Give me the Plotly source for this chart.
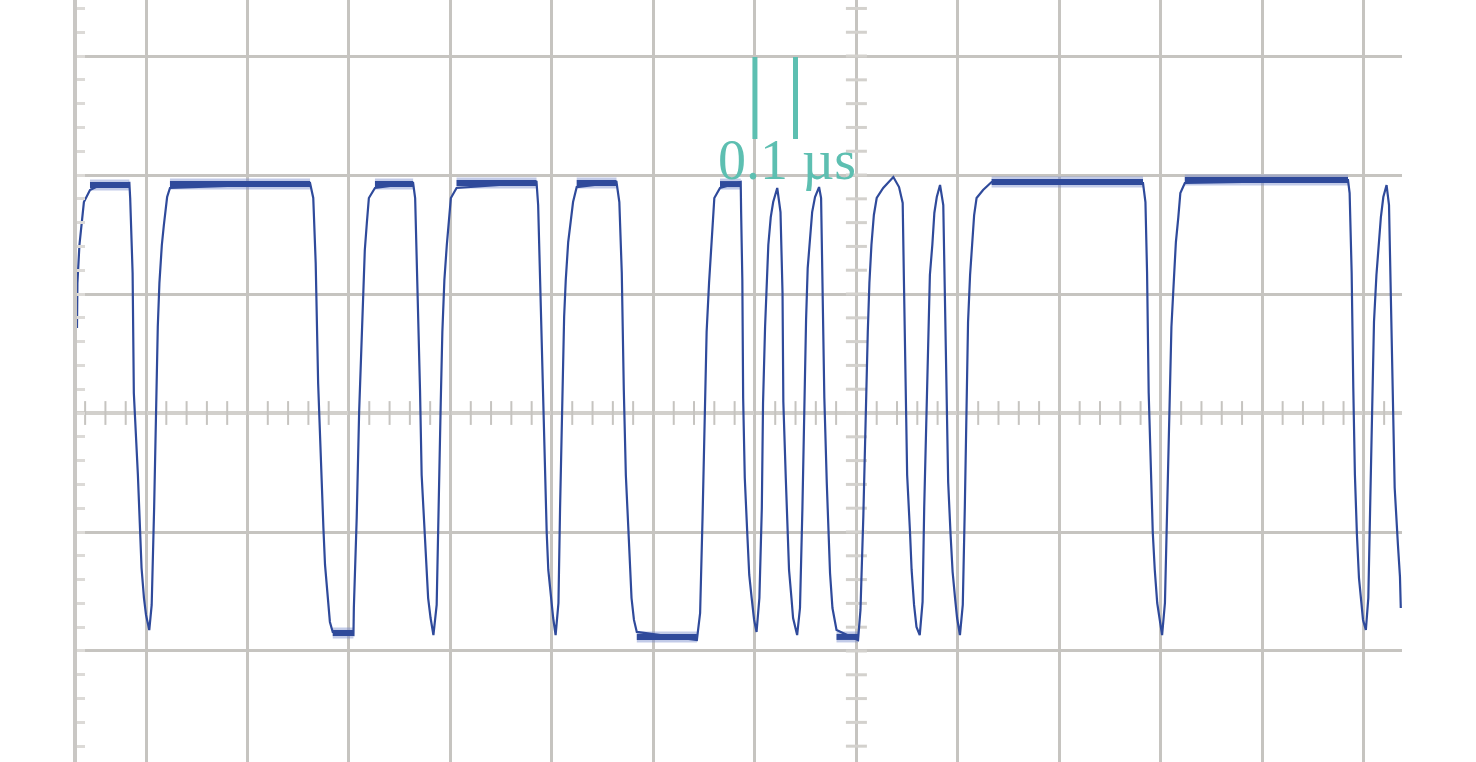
import numpy as np
import plotly.graph_objects as go

# ---- waveform: time (ns), level (divisions) ----
t_ns = [-1920, -1919, -1914, -1908, -1903, -1888, -1863, -1791, -1789, -1783, -1780, -1770, -1765, -1761,
        -1755, -1750, -1742, -1736, -1730, -1725, -1721, -1717, -1711, -1706, -1698, -1691, -1346, -1338,
        -1332, -1326, -1320, -1313, -1309, -1303, -1297, -1290, -1239, -1238, -1231, -1225, -1219, -1215,
        -1211, -1206, -1201, -1186, -1092, -1087, -1082, -1075, -1071, -1065, -1060, -1055, -1049, -1042,
        -1034, -1030, -1024, -1020, -1015, -1009, -1004, -999, -985, -788, -784, -780, -773, -767, -763,
        -759, -753, -747, -741, -734, -730, -724, -720, -716, -710, -704, -698, -689, -591, -584, -578,
        -573, -568, -562, -558, -554, -548, -541, -393, -385, -379, -373, -369, -363, -358, -354, -350,
        -336, -285, -284, -281, -279, -275, -269, -264, -258, -252, -246, -239, -233, -230, -225, -221,
        -217, -211, -205, -195, -187, -182, -180, -174, -170, -166, -160, -156, -146, -139, -133, -129,
        -124, -120, -115, -109, -102, -92, -87, -83, -79, -73, -69, -65, -59, -49, 4, 10, 17, 23, 28, 32,
        37, 43, 50, 66, 91, 105, 114, 117, 121, 125, 132, 136, 142, 148, 156, 163, 167, 173, 177, 181,
        187, 192, 198, 206, 214, 218, 222, 226, 232, 237, 243, 248, 255, 262, 267, 271, 275, 280, 285,
        290, 296, 312, 333, 706, 712, 716, 720, 725, 730, 735, 741, 748, 753, 760, 766, 772, 776, 782,
        787, 793, 798, 809, 1211, 1215, 1220, 1224, 1228, 1233, 1238, 1244, 1248, 1255, 1261, 1266,
        1271, 1275, 1281, 1287, 1292, 1298, 1306, 1312, 1316, 1322, 1326, 1334, 1339, 1341]
v_div = [0.714, 1.092, 1.412, 1.605, 1.773, 1.874, 1.916, 1.933, 1.807, 1.176, 0.168, -0.521, -1.0, -1.303,
         -1.555, -1.697, -1.824, -1.613, -0.798, 0.084, 0.723, 1.092, 1.412, 1.580, 1.815, 1.891, 1.933, 1.807,
         1.261, 0.252, -0.395, -0.966, -1.277, -1.555, -1.756, -1.840, -1.866, -1.639, -0.882, 0.008, 0.639, 1.050,
         1.370, 1.597, 1.807, 1.891, 1.933, 1.807, 1.176, 0.193, -0.521, -0.958, -1.319, -1.555, -1.723, -1.866,
         -1.613, -0.840, 0.084, 0.681, 1.118, 1.412, 1.605, 1.807, 1.891, 1.941, 1.748, 1.218, 0.168, -0.521, -1.0,
         -1.319, -1.555, -1.723, -1.866, -1.597, -0.798, 0.084, 0.807, 1.118, 1.437, 1.605, 1.773, 1.899, 1.941, 1.773, 1.176,
         0.193, -0.521, -0.958, -1.319, -1.555, -1.739, -1.840, -1.908, -1.681, -0.874, 0.084, 0.681, 1.092, 1.412, 1.605, 1.807,
         1.891, 1.941, 1.689, 1.118, 0.126, -0.546, -1.0, -1.361, -1.555, -1.739, -1.840, -1.555, -0.798, 0.084, 0.723, 1.160,
         1.412, 1.647, 1.773, 1.891, 1.689, 1.008, 0.092, -0.546, -1.0, -1.319, -1.555, -1.723, -1.866, -1.639, -0.798, 0.084,
         0.782, 1.218, 1.412, 1.689, 1.815, 1.899, 1.807, 1.008, 0.126, -0.588, -1.025, -1.345, -1.639, -1.824, -1.908, -1.655, -0.874, 0.025, 0.681, 1.092,
         1.412, 1.664, 1.807, 1.891, 1.983, 1.899, 1.765, 1.118, 0.151, -0.521, -1.0, -1.319, -1.613, -1.798, -1.866, -1.588, -0.798, 0.084, 0.782, 1.160,
         1.412, 1.681, 1.815, 1.916, 1.748, 1.050, 0.126, -0.580, -1.025, -1.336, -1.555, -1.723, -1.866, -1.613, -0.798, 0.084, 0.765, 1.160, 1.437,
         1.664, 1.807, 1.874, 1.941, 1.933, 1.773, 1.176, 0.168, -0.437, -1.0, -1.319, -1.597, -1.756, -1.866, -1.597, -0.756, 0.126, 0.723, 1.118,
         1.437, 1.647, 1.849, 1.933, 1.958, 1.849, 1.176, 0.210, -0.521, -1.025, -1.387, -1.597, -1.739, -1.824, -1.555, -0.714,
         0.168, 0.765, 1.160, 1.454, 1.647, 1.815, 1.916, 1.748, 1.017, 0.134, -0.630, -1.109, -1.378, -1.639]

# noisy flat stretches (thick band in the trace)
high_start = [-1888, -1691, -1186, -985, -689, -336, 333, 809]
high_end = [-1791, -1346, -1092, -788, -591, -285, 706, 1211]
high_level = [1.916, 1.924, 1.924, 1.933, 1.933, 1.924, 1.941, 1.958]
low_start = [-1290, -541, -49]
low_end = [-1239, -393, 4]
low_level = [-1.849, -1.882, -1.882]

# scale marker: 0.1 us
scale_t = [-250, -150]
scale_v = [2.303, 2.992]
scale_label = "0.1 µs"
label_t = -172
label_v = 2.126

X_RANGE = [-1920, 1344]
Y_RANGE = [-2.933, 3.471]

TRACE = "#2f4a9b"
GRID = "#c6c4c0"
TEAL = "#5dbfb1"

fig = go.Figure()

def band_xy(starts, ends, levels):
    xs, ys = [], []
    for s, e, l in zip(starts, ends, levels):
        xs += [s, e, None]
        ys += [l, l, None]
    return xs, ys

# centre-axis cross ticks
tx = np.arange(-1900, X_RANGE[1], 50)
fig.add_trace(go.Scatter(x=tx, y=np.zeros_like(tx), mode="markers", hoverinfo="skip",
                         marker=dict(symbol="line-ns", size=17, line=dict(color=GRID, width=2))))
ty = np.arange(-2.8, Y_RANGE[1], 0.2)
fig.add_trace(go.Scatter(x=np.zeros_like(ty), y=ty, mode="markers", hoverinfo="skip",
                         marker=dict(symbol="line-ew", size=15, line=dict(color="#d3d1cd", width=3))))

hx, hy = band_xy(high_start, high_end, high_level)
lx, ly = band_xy(low_start, low_end, low_level)
fig.add_trace(go.Scatter(x=hx + lx, y=hy + ly, mode="lines", hoverinfo="skip",
                         line=dict(color="rgba(120,140,205,0.45)", width=11)))
fig.add_trace(go.Scatter(x=t_ns, y=v_div, mode="lines", line=dict(color=TRACE, width=2.2)))
fig.add_trace(go.Scatter(x=hx + lx, y=hy + ly, mode="lines", hoverinfo="skip",
                         line=dict(color=TRACE, width=6)))

# scale marker bars
fig.add_trace(go.Scatter(x=[scale_t[0], scale_t[0], None, scale_t[1], scale_t[1]],
                         y=[scale_v[0], scale_v[1], None, scale_v[0], scale_v[1]],
                         mode="lines", hoverinfo="skip", line=dict(color=TEAL, width=5)))
fig.add_annotation(x=label_t, y=label_v, text=scale_label, showarrow=False,
                   xanchor="center", yanchor="middle",
                   font=dict(family="Liberation Serif", size=56, color=TEAL))

fig.update_xaxes(range=X_RANGE, showgrid=True, gridcolor=GRID, gridwidth=2.5, dtick=250, tick0=0,
                 zeroline=True, zerolinecolor=GRID, zerolinewidth=2.5, showticklabels=False,
                 ticks="", showline=False)
fig.update_yaxes(range=Y_RANGE, showgrid=True, gridcolor=GRID, gridwidth=2.5, dtick=1, tick0=0,
                 zeroline=True, zerolinecolor="#d2d0cc", zerolinewidth=4, showticklabels=False,
                 showline=True, linecolor="#c9c7c4", linewidth=4,
                 ticks="inside", ticklen=8, tickwidth=3, tickcolor="#dcdad7",
                 minor=dict(ticks="inside", ticklen=8, tickwidth=3, tickcolor="#dcdad7", dtick=0.2, tick0=0))

fig.update_layout(width=1476, height=762, margin=dict(l=77, r=74, t=0, b=0, pad=0),
                  plot_bgcolor="white", paper_bgcolor="white", showlegend=False)

fig.write_html("out.html", config={"displayModeBar": False},
               post_script="document.body.style.margin='0';document.body.style.overflow='hidden';")
